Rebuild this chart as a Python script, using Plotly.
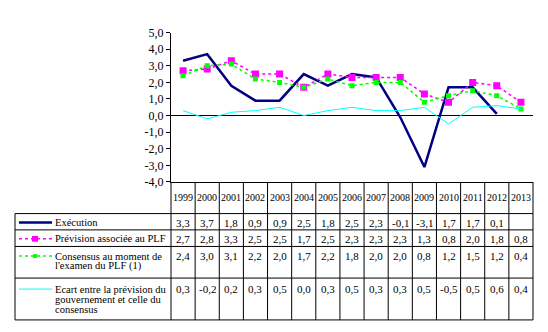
import plotly.graph_objects as go

# Data
years = [str(y) for y in range(1999, 2014)]
execution = [3.3, 3.7, 1.8, 0.9, 0.9, 2.5, 1.8, 2.5, 2.3, -0.1, -3.1, 1.7, 1.7, 0.1, None]
prevision = [2.7, 2.8, 3.3, 2.5, 2.5, 1.7, 2.5, 2.3, 2.3, 2.3, 1.3, 0.8, 2.0, 1.8, 0.8]
consensus = [2.4, 3.0, 3.1, 2.2, 2.0, 1.7, 2.2, 1.8, 2.0, 2.0, 0.8, 1.2, 1.5, 1.2, 0.4]
ecart = [0.3, -0.2, 0.2, 0.3, 0.5, 0.0, 0.3, 0.5, 0.3, 0.3, 0.5, -0.5, 0.5, 0.6, 0.4]
y_ticks = [-4, -3, -2, -1, 0, 1, 2, 3, 4, 5]

W, H = 548, 332
FONT = "Liberation Serif"
NAVY, MAGENTA, GREEN, CYAN = "#000080", "#FF00FF", "#00FF00", "#00FFFF"


def fx(px):
    return px / W


def fy(py):
    return 1 - py / H


# plot area in pixels
X0, X1 = 171, 533
Y_TOP, Y_BOT = 26.7, 182.7
TABLE_LEFT = 15
ROW_LINES = [215.7, 232.7, 250.0, 283.0, 326.7]


def fmt(v):
    if v is None:
        return ""
    return f"{v:.1f}".replace(".", ",")


series = [
    ("Exécution", execution, dict(color=NAVY, width=2.5), None),
    ("Prévision associée au PLF", prevision, dict(color=MAGENTA, width=1.5, dash="dot"),
     dict(symbol="square", size=7, color=MAGENTA)),
    ("Consensus au moment de l'examen du PLF (1)", consensus,
     dict(color=GREEN, width=1.5, dash="dot"), dict(symbol="square", size=5, color=GREEN)),
    ("Ecart entre la prévision du gouvernement et celle du consensus", ecart,
     dict(color=CYAN, width=1), None),
]

fig = go.Figure()
for name, vals, line, marker in series:
    fig.add_trace(go.Scatter(
        x=years, y=vals, name=name,
        mode="lines+markers" if marker else "lines",
        line=line, marker=marker, connectgaps=False, showlegend=False,
    ))

shapes = []
annotations = []
black = dict(color="black", width=1)

# column boundaries of the data table follow the category axis
n = len(years)
col_w = (X1 - X0) / n
bounds = [X0 + k * col_w for k in range(n + 1)]

# header (year) row
for b in bounds:
    shapes.append(dict(type="line", xref="paper", yref="paper",
                       x0=fx(b), x1=fx(b), y0=fy(Y_BOT), y1=fy(ROW_LINES[0]), line=black))
for i, yr in enumerate(years):
    annotations.append(dict(x=i, xref="x", y=fy(198.5), yref="paper", text=yr,
                            showarrow=False, xanchor="center", yanchor="middle",
                            font=dict(family=FONT, size=10, color="black")))

# body rows
for py in ROW_LINES:
    shapes.append(dict(type="line", xref="paper", yref="paper",
                       x0=fx(TABLE_LEFT), x1=fx(X1), y0=fy(py), y1=fy(py), line=black))
for b in [TABLE_LEFT] + bounds:
    shapes.append(dict(type="line", xref="paper", yref="paper",
                       x0=fx(b), x1=fx(b), y0=fy(ROW_LINES[0]), y1=fy(ROW_LINES[-1]), line=black))

label_lines = [
    ["Exécution"],
    ["Prévision associée au PLF"],
    ["Consensus au moment de", "l'examen du PLF (1)"],
    ["Ecart entre la prévision du", "gouvernement et celle du", "consensus"],
]
first_line_y = [225.0, 242.0, 260.0, 294.5]
line_step = 10.8

for (name, vals, line, marker), lines, ly in zip(series, label_lines, first_line_y):
    # legend key
    shapes.append(dict(type="line", xref="paper", yref="paper",
                       x0=fx(19), x1=fx(52), y0=fy(ly), y1=fy(ly),
                       line=dict(color=line["color"], width=line["width"],
                                 dash=line.get("dash", "solid"))))
    if marker:
        half = marker["size"] / 2 - 0.5
        shapes.append(dict(type="rect", xref="paper", yref="paper",
                           x0=fx(35 - half), x1=fx(35 + half),
                           y0=fy(ly - half), y1=fy(ly + half),
                           fillcolor=marker["color"], line=dict(width=0)))
    for j, txt in enumerate(lines):
        annotations.append(dict(x=fx(52.5), xref="paper", y=fy(ly + j * line_step), yref="paper",
                                text=txt, showarrow=False, xanchor="left", yanchor="middle",
                                font=dict(family=FONT, size=10.5, color="black")))
    # values
    for i, v in enumerate(vals):
        if v is None:
            continue
        annotations.append(dict(x=i, xref="x", y=fy(ly), yref="paper", text=fmt(v),
                                showarrow=False, xanchor="center", yanchor="middle",
                                font=dict(family=FONT, size=11, color="black")))

fig.update_layout(
    width=W, height=H,
    margin=dict(l=0, r=0, t=0, b=0),
    paper_bgcolor="white", plot_bgcolor="white",
    font=dict(family=FONT, color="black"),
    shapes=shapes, annotations=annotations,
    xaxis=dict(domain=[fx(X0), fx(X1)], type="category", range=[-0.5, n - 0.5],
               showticklabels=False, ticks="", showgrid=False, zeroline=False,
               showline=True, linecolor="black", linewidth=1),
    yaxis=dict(domain=[fy(Y_BOT), fy(Y_TOP)], range=[-4, 5],
               tickvals=y_ticks, ticktext=[fmt(v) for v in y_ticks],
               ticks="outside", ticklen=4, tickcolor="black",
               showgrid=False, zeroline=True, zerolinecolor="black", zerolinewidth=1,
               showline=True, linecolor="black", linewidth=1,
               tickfont=dict(family=FONT, size=12, color="black")),
)

fig.write_html("out.html")
